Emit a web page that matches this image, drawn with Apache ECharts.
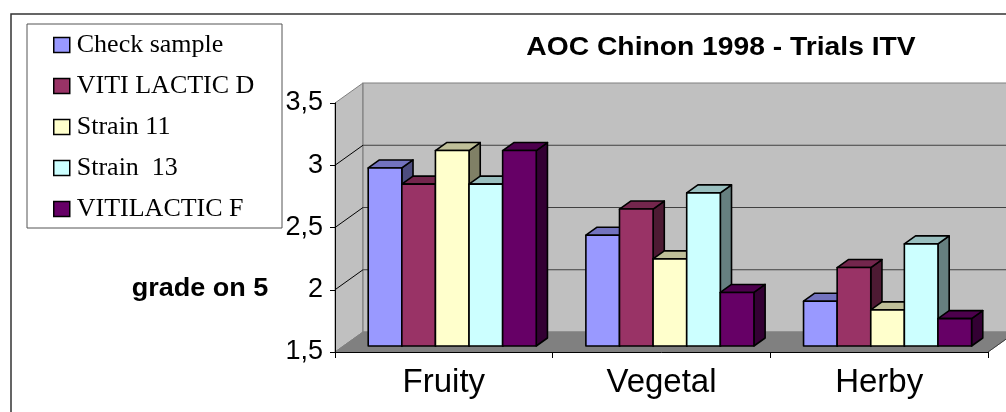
<!DOCTYPE html>
<html><head><meta charset="utf-8">
<script src="https://cdn.jsdelivr.net/npm/echarts@6/dist/echarts.min.js"></script>
<style>html,body{margin:0;padding:0;background:#fff}#c{width:1006px;height:412px}</style>
</head><body><div id="c"></div>
<script>
// ---- data ----
const categories = ['Fruity', 'Vegetal', 'Herby'];
const seriesNames = ['Check sample', 'VITI LACTIC D', 'Strain 11', 'Strain  13', 'VITILACTIC F'];
const checkSample = [2.93, 2.39, 1.86];
const vitiLacticD = [2.80, 2.60, 2.13];
const strain11 = [3.07, 2.20, 1.79];
const strain13 = [2.80, 2.73, 2.32];
const vitilacticF = [3.07, 1.93, 1.72];
const yTicks = [1.5, 2, 2.5, 3, 3.5];
const titleText = 'AOC Chinon 1998 - Trials ITV';
const yAxisTitle = 'grade on 5';

// ---- style ----
const seriesValues = [checkSample, vitiLacticD, strain11, strain13, vitilacticF];
const colors = ['#9999FF', '#993366', '#FFFFCC', '#CCFFFF', '#660066'];
const yMin = yTicks[0], yMax = yTicks[yTicks.length - 1];
const DX = 28, DY = -20;       // depth offset of the back wall
const F0 = 0.3, FD = 0.4;      // bar front position and bar depth (fractions of depth)
const GROUP_FRAC = 0.772;
const SANS = 'Liberation Sans, Arial, sans-serif';
const SERIF = 'Liberation Serif, Times New Roman, serif';

function shade(hex, k) {
  const n = parseInt(hex.slice(1), 16);
  const r = Math.round(((n >> 16) & 255) * k), g = Math.round(((n >> 8) & 255) * k), b = Math.round((n & 255) * k);
  return 'rgb(' + r + ',' + g + ',' + b + ')';
}

function wallsRender(params, api) {
  const band = api.size([1, 0])[0];
  const x0 = api.coord([0, yMin])[0] - band / 2;
  const x1 = api.coord([categories.length - 1, yMin])[0] + band / 2;
  const yb = api.coord([0, yMin])[1];
  const yt = api.coord([0, yMax])[1];
  const ch = [];
  ch.push({ type: 'polygon', shape: { points: [[x0, yb], [x0, yt], [x0 + DX, yt + DY], [x0 + DX, yb + DY]] },
    style: { fill: '#c0c0c0', stroke: '#808080', lineWidth: 1 } });
  ch.push({ type: 'rect', shape: { x: x0 + DX, y: yt + DY, width: x1 - x0, height: yb - yt },
    style: { fill: '#c0c0c0', stroke: '#808080', lineWidth: 1.2 } });
  yTicks.forEach(function (v) {
    if (v === yMin || v === yMax) return;
    const y = api.coord([0, v])[1];
    ch.push({ type: 'line', shape: { x1: x0 + DX, y1: y + DY, x2: x1 + DX, y2: y + DY }, style: { stroke: '#404040', lineWidth: 1.2 } });
    ch.push({ type: 'line', shape: { x1: x0, y1: y, x2: x0 + DX, y2: y + DY }, style: { stroke: '#000', lineWidth: 1 } });
  });
  ch.push({ type: 'polygon', shape: { points: [[x0, yb], [x1, yb], [x1 + DX, yb + DY], [x0 + DX, yb + DY]] },
    style: { fill: '#808080', stroke: '#808080', lineWidth: 1 } });
  ch.push({ type: 'line', shape: { x1: x1, y1: yb, x2: x1 + DX, y2: yb + DY }, style: { stroke: '#404040', lineWidth: 1 } });
  return { type: 'group', children: ch };
}

function makeBarRender(i) {
  return function (params, api) {
    const cat = api.value(0), val = api.value(1);
    const band = api.size([1, 0])[0];
    const groupW = band * GROUP_FRAC;
    const bw = groupW / seriesValues.length;
    const c = api.coord([cat, val]);
    const b = api.coord([cat, yMin]);
    const ox = DX * F0, oy = DY * F0, dx = DX * FD, dy = DY * FD;
    const xl = c[0] - groupW / 2 + i * bw + ox, xr = xl + bw;
    const yt = c[1] + oy, yb = b[1] + oy;
    const col = colors[i];
    const st = { stroke: '#000', lineWidth: 1.6, lineJoin: 'round' };
    return { type: 'group', children: [
      { type: 'polygon', shape: { points: [[xr, yt], [xr + dx, yt + dy], [xr + dx, yb + dy], [xr, yb]] },
        style: Object.assign({ fill: shade(col, 0.5) }, st) },
      { type: 'polygon', shape: { points: [[xl, yt], [xr, yt], [xr + dx, yt + dy], [xl + dx, yt + dy]] },
        style: Object.assign({ fill: shade(col, 0.75) }, st) },
      { type: 'rect', shape: { x: xl, y: yt, width: bw, height: yb - yt },
        style: Object.assign({ fill: col }, st) }
    ] };
  };
}

const series = [{
  type: 'custom', name: '__walls', z: 1, silent: true, clip: false,
  renderItem: wallsRender, data: [[0, yMin]]
}];
seriesNames.forEach(function (name, i) {
  series.push({
    type: 'custom', name: name, z: 2, clip: false,
    itemStyle: { color: colors[i] },
    renderItem: makeBarRender(i),
    data: seriesValues[i].map(function (v, k) { return [k, v]; })
  });
});

const chart = echarts.init(document.getElementById('c'), null, { renderer: 'canvas' });
chart.setOption({
  animation: false,
  backgroundColor: '#fff',
  grid: { left: 335, right: 18, top: 103, bottom: 60, containLabel: false, outerBoundsMode: 'none' },
  xAxis: {
    type: 'category', data: categories, z: 10, boundaryGap: true,
    axisLine: { show: true, lineStyle: { color: '#000', width: 1 } },
    axisTick: { show: true, length: 6, lineStyle: { color: '#000', width: 1 } },
    axisLabel: { fontSize: 33, fontFamily: SANS, color: '#000', margin: 14 },
    splitLine: { show: false }
  },
  yAxis: {
    type: 'value', min: yMin, max: yMax, interval: 0.5, z: 10,
    axisLine: { show: true, lineStyle: { color: '#000', width: 1 } },
    axisTick: { show: true, length: 5, lineStyle: { color: '#000', width: 1 } },
    axisLabel: { fontSize: 27, fontFamily: SANS, color: '#000', margin: 12,
      formatter: function (v) { return String(v).replace('.', ','); } },
    splitLine: { show: false }
  },
  legend: {
    orient: 'vertical', left: 48, top: 27, itemGap: 15, itemWidth: 16, itemHeight: 15,
    selectedMode: false, icon: 'rect',
    textStyle: { fontFamily: SERIF, fontSize: 26, color: '#000', lineHeight: 26, padding: [0, 0, 0, 2] },
    data: seriesNames.map(function (n, i) {
      return { name: n, icon: 'rect', itemStyle: { color: colors[i], borderColor: '#000', borderWidth: 1.5 } };
    })
  },
  graphic: [
    { type: 'rect', z: 0, shape: { x: 11, y: 14, width: 1100, height: 500 }, style: { fill: 'none', stroke: '#333', lineWidth: 1.5 } },
    { type: 'rect', z: 0, shape: { x: 27, y: 24, width: 255, height: 204 }, style: { fill: '#fff', stroke: '#555', lineWidth: 1 } },
    { type: 'text', z: 5, x: 721, y: 48, scaleX: 1.13, style: { text: titleText, font: 'bold 25px ' + SANS, fill: '#000', textAlign: 'center', textVerticalAlign: 'middle' } },
    { type: 'text', z: 5, x: 200, y: 289, scaleX: 1.04, style: { text: yAxisTitle, font: 'bold 26px ' + SANS, fill: '#000', textAlign: 'center', textVerticalAlign: 'middle' } }
  ],
  series: series
});
</script>
</body></html>
